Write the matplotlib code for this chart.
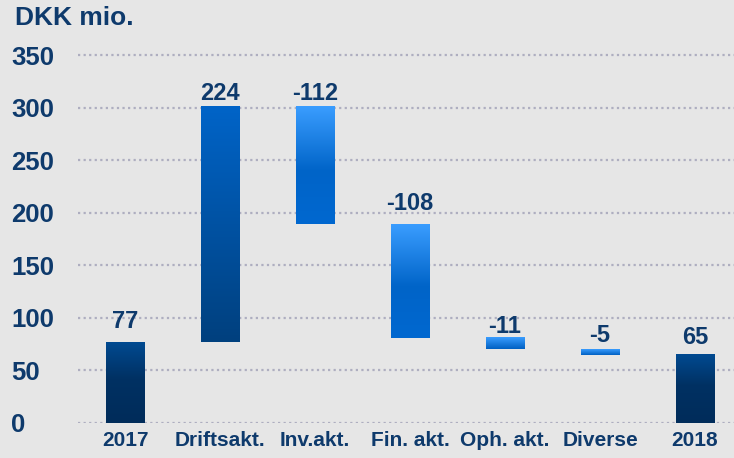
import numpy as np
import matplotlib
matplotlib.use("Agg")
import matplotlib.pyplot as plt
from matplotlib.colors import LinearSegmentedColormap

# data
categories = ["2017", "Driftsakt.", "Inv.akt.", "Fin. akt.", "Oph. akt.", "Diverse", "2018"]
values = [77, 224, -112, -108, -11, -5, 65]
is_total = [True, False, False, False, False, False, True]
yticks = [0, 50, 100, 150, 200, 250, 300, 350]

BG = "#e6e6e6"
NAVY = "#0e3a6c"

plt.rcParams["font.family"] = ["Liberation Sans", "DejaVu Sans"]
plt.rcParams["font.weight"] = "bold"

grad_total = LinearSegmentedColormap.from_list("tot", [(0, "#002c5a"), (0.55, "#003163"), (1, "#004a91")])
grad_pos = LinearSegmentedColormap.from_list("pos", [(0, "#00407e"), (1, "#0064c8")])
grad_neg = LinearSegmentedColormap.from_list("neg", [(0, "#0068d0"), (0.45, "#0064c8"), (1, "#3a9dff")])
grad_small = LinearSegmentedColormap.from_list("sml", [(0, "#0060c2"), (1, "#3a9dff")])

# waterfall geometry
bottoms, heights, cmaps = [], [], []
level = 0
for v, tot in zip(values, is_total):
    if tot:
        bottoms.append(0)
        heights.append(v)
        level = v
        cmaps.append(grad_total)
    else:
        new = level + v
        bottoms.append(min(level, new))
        heights.append(abs(v))
        level = new
        if v > 0:
            cmaps.append(grad_pos)
        elif abs(v) > 50:
            cmaps.append(grad_neg)
        else:
            cmaps.append(grad_small)

fig = plt.figure(figsize=(7.34, 4.58), dpi=100, facecolor=BG)
ax = fig.add_axes([78 / 734, 35 / 458, 656 / 734, 378.5 / 458])
ax.set_facecolor(BG)

x = np.arange(len(categories))
bars = ax.bar(x, heights, bottom=bottoms, width=0.41, color="none", zorder=2)

grad = np.linspace(0, 1, 256).reshape(-1, 1)
for b, cm in zip(bars, cmaps):
    x0, y0 = b.get_x(), b.get_y()
    ax.imshow(grad, cmap=cm, origin="lower", aspect="auto", interpolation="bilinear",
              extent=[x0, x0 + b.get_width(), y0, y0 + b.get_height()], zorder=2)

# value labels (baseline gap above bar top, in points)
offsets = [10, 5, 5, 10, 3.6, 5, 8]
for xi, b, h, v, off in zip(x, bottoms, heights, values, offsets):
    ax.annotate(str(v), (xi, b + h), xytext=(0, off), textcoords="offset points",
                ha="center", va="baseline", fontsize=17, color=NAVY,
                fontweight="bold", zorder=3)

ax.set_xlim(-0.495, 6.41)
ax.set_ylim(0, 360)
ax.set_yticks(yticks)
ax.set_yticklabels([str(t) for t in yticks])
for lbl in ax.get_yticklabels():
    lbl.set_horizontalalignment("left")
ax.tick_params(axis="y", length=0, pad=48, labelsize=18.5, labelcolor=NAVY)
ax.set_xticks(x)
ax.set_xticklabels(categories)
ax.tick_params(axis="x", length=0, pad=6, labelsize=15, labelcolor=NAVY)

ax.grid(axis="y", color="#aeaec0", linestyle=(0, (1, 1.5)), linewidth=1.6, zorder=0)
ax.set_axisbelow(True)
for s in ax.spines.values():
    s.set_visible(False)

fig.text(15 / 734, 1 - 6 / 458, "DKK mio.", ha="left", va="top", fontsize=19,
         color=NAVY, fontweight="bold")

fig.savefig("out.png", dpi=100, facecolor=BG)
